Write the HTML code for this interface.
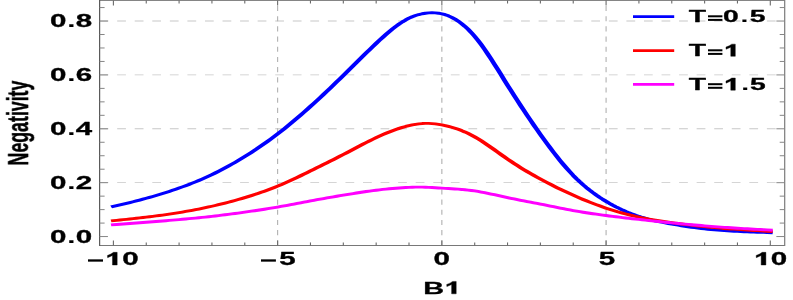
<!DOCTYPE html>
<html><head><meta charset="utf-8"><style>
html,body{margin:0;padding:0;background:#fff;}
svg{display:block;}
</style></head><body>
<svg width="793" height="300" viewBox="0 0 793 300">
<rect width="793" height="300" fill="#fff"/>
<g transform="scale(1.66667,1)">
<g stroke="#c8c8c8" stroke-width="0.9" fill="none">
<line x1="59.76" x2="470.82" y1="182.67" y2="182.67" stroke-dasharray="5.268 5.268"/>
<line x1="59.76" x2="470.82" y1="128.79" y2="128.79" stroke-dasharray="5.268 5.268"/>
<line x1="59.76" x2="470.82" y1="74.91" y2="74.91" stroke-dasharray="5.268 5.268"/>
<line x1="59.76" x2="470.82" y1="21.03" y2="21.03" stroke-dasharray="5.268 5.268"/>
<line x1="166.57" x2="166.57" y1="245.4" y2="0.5" stroke-dasharray="5.094 5.094" stroke-width="0.66" stroke="#b0b0b0"/>
<line x1="265.11" x2="265.11" y1="245.4" y2="0.5" stroke-dasharray="5.094 5.094" stroke-width="0.66" stroke="#b0b0b0"/>
<line x1="363.65" x2="363.65" y1="245.4" y2="0.5" stroke-dasharray="5.094 5.094" stroke-width="0.66" stroke="#b0b0b0"/>
</g>
<path d="M68.04 206.38 L70.01 205.64 L71.98 204.89 L73.95 204.13 L75.92 203.35 L77.89 202.55 L79.86 201.74 L81.83 200.91 L83.81 200.06 L85.78 199.19 L87.75 198.30 L89.72 197.38 L91.69 196.45 L93.66 195.49 L95.63 194.51 L97.60 193.50 L99.57 192.47 L101.54 191.41 L103.51 190.32 L105.48 189.20 L107.45 188.06 L109.42 186.88 L111.40 185.67 L113.37 184.43 L115.34 183.15 L117.31 181.83 L119.28 180.47 L121.25 179.07 L123.22 177.62 L125.19 176.13 L127.16 174.59 L129.13 173.00 L131.10 171.36 L133.07 169.67 L135.04 167.93 L137.01 166.15 L138.99 164.31 L140.96 162.44 L142.93 160.51 L144.90 158.55 L146.87 156.54 L148.84 154.49 L150.81 152.39 L152.78 150.25 L154.75 148.06 L156.72 145.82 L158.69 143.54 L160.66 141.21 L162.63 138.83 L164.60 136.39 L166.57 133.91 L168.55 131.37 L170.52 128.78 L172.49 126.14 L174.46 123.45 L176.43 120.72 L178.40 117.94 L180.37 115.12 L182.34 112.26 L184.31 109.36 L186.28 106.43 L188.25 103.46 L190.22 100.46 L192.19 97.43 L194.16 94.36 L196.14 91.27 L198.11 88.15 L200.08 85.01 L202.05 81.84 L204.02 78.66 L205.99 75.45 L207.96 72.22 L209.93 68.99 L211.90 65.74 L213.87 62.50 L215.84 59.26 L217.81 56.04 L219.78 52.83 L221.75 49.65 L223.73 46.50 L225.70 43.39 L227.67 40.33 L229.64 37.33 L231.61 34.41 L233.58 31.61 L235.55 28.93 L237.52 26.40 L239.49 24.04 L241.46 21.87 L243.43 19.92 L245.40 18.20 L247.37 16.73 L249.34 15.51 L251.32 14.53 L253.29 13.77 L255.26 13.24 L257.23 12.92 L259.20 12.81 L261.17 12.91 L263.14 13.23 L265.11 13.81 L267.08 14.68 L269.05 15.85 L271.02 17.32 L272.99 19.09 L274.96 21.18 L276.93 23.58 L278.90 26.29 L280.88 29.33 L282.85 32.69 L284.82 36.39 L286.79 40.41 L288.76 44.72 L290.73 49.29 L292.70 54.08 L294.67 59.05 L296.64 64.15 L298.61 69.35 L300.58 74.61 L302.55 79.89 L304.52 85.15 L306.49 90.35 L308.47 95.50 L310.44 100.58 L312.41 105.61 L314.38 110.57 L316.35 115.47 L318.32 120.31 L320.29 125.09 L322.26 129.80 L324.23 134.45 L326.20 139.03 L328.17 143.53 L330.14 147.95 L332.11 152.27 L334.08 156.47 L336.06 160.55 L338.03 164.50 L340.00 168.29 L341.97 171.93 L343.94 175.40 L345.91 178.68 L347.88 181.79 L349.85 184.74 L351.82 187.52 L353.79 190.16 L355.76 192.65 L357.73 195.02 L359.70 197.25 L361.67 199.38 L363.65 201.39 L365.62 203.31 L367.59 205.13 L369.56 206.85 L371.53 208.48 L373.50 210.02 L375.47 211.47 L377.44 212.83 L379.41 214.10 L381.38 215.29 L383.35 216.40 L385.32 217.42 L387.29 218.37 L389.26 219.26 L391.23 220.08 L393.21 220.84 L395.18 221.56 L397.15 222.24 L399.12 222.88 L401.09 223.49 L403.06 224.08 L405.03 224.65 L407.00 225.20 L408.97 225.74 L410.94 226.26 L412.91 226.76 L414.88 227.23 L416.85 227.69 L418.82 228.12 L420.80 228.52 L422.77 228.90 L424.74 229.25 L426.71 229.57 L428.68 229.87 L430.65 230.15 L432.62 230.40 L434.59 230.64 L436.56 230.85 L438.53 231.05 L440.50 231.24 L442.47 231.40 L444.44 231.56 L446.41 231.71 L448.39 231.84 L450.36 231.97 L452.33 232.09 L454.30 232.20 L456.27 232.32 L458.24 232.42 L460.21 232.53 L462.18 232.64" fill="none" stroke="#0000ff" stroke-width="2.9" stroke-linecap="square" stroke-linejoin="round"/>
<path d="M68.04 220.66 L70.01 220.33 L71.98 220.01 L73.95 219.68 L75.92 219.34 L77.89 219.00 L79.86 218.65 L81.83 218.29 L83.81 217.92 L85.78 217.54 L87.75 217.15 L89.72 216.75 L91.69 216.35 L93.66 215.92 L95.63 215.49 L97.60 215.04 L99.57 214.58 L101.54 214.10 L103.51 213.61 L105.48 213.10 L107.45 212.57 L109.42 212.03 L111.40 211.47 L113.37 210.89 L115.34 210.29 L117.31 209.67 L119.28 209.03 L121.25 208.36 L123.22 207.68 L125.19 206.97 L127.16 206.24 L129.13 205.49 L131.10 204.71 L133.07 203.91 L135.04 203.08 L137.01 202.23 L138.99 201.36 L140.96 200.46 L142.93 199.54 L144.90 198.59 L146.87 197.62 L148.84 196.63 L150.81 195.61 L152.78 194.56 L154.75 193.48 L156.72 192.36 L158.69 191.21 L160.66 190.02 L162.63 188.78 L164.60 187.50 L166.57 186.17 L168.55 184.80 L170.52 183.37 L172.49 181.91 L174.46 180.41 L176.43 178.88 L178.40 177.33 L180.37 175.75 L182.34 174.16 L184.31 172.56 L186.28 170.95 L188.25 169.34 L190.22 167.73 L192.19 166.11 L194.16 164.49 L196.14 162.85 L198.11 161.21 L200.08 159.56 L202.05 157.90 L204.02 156.21 L205.99 154.52 L207.96 152.80 L209.93 151.08 L211.90 149.35 L213.87 147.62 L215.84 145.90 L217.81 144.20 L219.78 142.52 L221.75 140.87 L223.73 139.25 L225.70 137.68 L227.67 136.16 L229.64 134.69 L231.61 133.28 L233.58 131.94 L235.55 130.68 L237.52 129.49 L239.49 128.39 L241.46 127.37 L243.43 126.45 L245.40 125.64 L247.37 124.93 L249.34 124.34 L251.32 123.89 L253.29 123.57 L255.26 123.42 L257.23 123.42 L259.20 123.59 L261.17 123.90 L263.14 124.35 L265.11 124.91 L267.08 125.58 L269.05 126.35 L271.02 127.23 L272.99 128.23 L274.96 129.35 L276.93 130.59 L278.90 131.96 L280.88 133.46 L282.85 135.10 L284.82 136.87 L286.79 138.79 L288.76 140.82 L290.73 142.97 L292.70 145.19 L294.67 147.47 L296.64 149.80 L298.61 152.14 L300.58 154.49 L302.55 156.81 L304.52 159.10 L306.49 161.32 L308.47 163.49 L310.44 165.60 L312.41 167.66 L314.38 169.66 L316.35 171.62 L318.32 173.54 L320.29 175.41 L322.26 177.24 L324.23 179.03 L326.20 180.79 L328.17 182.52 L330.14 184.22 L332.11 185.88 L334.08 187.51 L336.06 189.11 L338.03 190.67 L340.00 192.21 L341.97 193.72 L343.94 195.20 L345.91 196.65 L347.88 198.06 L349.85 199.45 L351.82 200.80 L353.79 202.12 L355.76 203.40 L357.73 204.65 L359.70 205.86 L361.67 207.03 L363.65 208.16 L365.62 209.24 L367.59 210.28 L369.56 211.29 L371.53 212.25 L373.50 213.17 L375.47 214.05 L377.44 214.88 L379.41 215.68 L381.38 216.44 L383.35 217.15 L385.32 217.83 L387.29 218.47 L389.26 219.08 L391.23 219.65 L393.21 220.20 L395.18 220.73 L397.15 221.23 L399.12 221.72 L401.09 222.19 L403.06 222.65 L405.03 223.10 L407.00 223.54 L408.97 223.97 L410.94 224.39 L412.91 224.80 L414.88 225.20 L416.85 225.59 L418.82 225.96 L420.80 226.32 L422.77 226.66 L424.74 226.99 L426.71 227.31 L428.68 227.61 L430.65 227.90 L432.62 228.18 L434.59 228.44 L436.56 228.70 L438.53 228.94 L440.50 229.18 L442.47 229.41 L444.44 229.63 L446.41 229.85 L448.39 230.06 L450.36 230.26 L452.33 230.46 L454.30 230.66 L456.27 230.86 L458.24 231.05 L460.21 231.24 L462.18 231.43" fill="none" stroke="#ff0000" stroke-width="2.9" stroke-linecap="square" stroke-linejoin="round"/>
<path d="M68.04 224.70 L70.01 224.46 L71.98 224.22 L73.95 223.99 L75.92 223.75 L77.89 223.51 L79.86 223.26 L81.83 223.02 L83.81 222.77 L85.78 222.52 L87.75 222.27 L89.72 222.02 L91.69 221.76 L93.66 221.50 L95.63 221.24 L97.60 220.97 L99.57 220.70 L101.54 220.42 L103.51 220.15 L105.48 219.86 L107.45 219.58 L109.42 219.29 L111.40 218.99 L113.37 218.69 L115.34 218.38 L117.31 218.06 L119.28 217.74 L121.25 217.41 L123.22 217.06 L125.19 216.71 L127.16 216.35 L129.13 215.97 L131.10 215.58 L133.07 215.18 L135.04 214.78 L137.01 214.36 L138.99 213.93 L140.96 213.49 L142.93 213.05 L144.90 212.60 L146.87 212.14 L148.84 211.68 L150.81 211.21 L152.78 210.73 L154.75 210.24 L156.72 209.74 L158.69 209.23 L160.66 208.70 L162.63 208.17 L164.60 207.62 L166.57 207.05 L168.55 206.47 L170.52 205.87 L172.49 205.27 L174.46 204.65 L176.43 204.03 L178.40 203.40 L180.37 202.77 L182.34 202.15 L184.31 201.53 L186.28 200.91 L188.25 200.30 L190.22 199.70 L192.19 199.11 L194.16 198.52 L196.14 197.94 L198.11 197.37 L200.08 196.81 L202.05 196.25 L204.02 195.69 L205.99 195.14 L207.96 194.60 L209.93 194.06 L211.90 193.53 L213.87 193.01 L215.84 192.50 L217.81 192.01 L219.78 191.53 L221.75 191.07 L223.73 190.63 L225.70 190.21 L227.67 189.82 L229.64 189.44 L231.61 189.10 L233.58 188.77 L235.55 188.47 L237.52 188.20 L239.49 187.96 L241.46 187.74 L243.43 187.55 L245.40 187.38 L247.37 187.25 L249.34 187.17 L251.32 187.14 L253.29 187.17 L255.26 187.26 L257.23 187.39 L259.20 187.55 L261.17 187.74 L263.14 187.94 L265.11 188.14 L267.08 188.33 L269.05 188.53 L271.02 188.73 L272.99 188.94 L274.96 189.18 L276.93 189.44 L278.90 189.75 L280.88 190.09 L282.85 190.49 L284.82 190.94 L286.79 191.46 L288.76 192.03 L290.73 192.66 L292.70 193.32 L294.67 194.01 L296.64 194.72 L298.61 195.45 L300.58 196.18 L302.55 196.91 L304.52 197.62 L306.49 198.31 L308.47 198.99 L310.44 199.64 L312.41 200.29 L314.38 200.92 L316.35 201.55 L318.32 202.18 L320.29 202.81 L322.26 203.45 L324.23 204.09 L326.20 204.74 L328.17 205.40 L330.14 206.06 L332.11 206.73 L334.08 207.39 L336.06 208.05 L338.03 208.70 L340.00 209.33 L341.97 209.95 L343.94 210.55 L345.91 211.13 L347.88 211.69 L349.85 212.23 L351.82 212.74 L353.79 213.25 L355.76 213.73 L357.73 214.20 L359.70 214.66 L361.67 215.10 L363.65 215.54 L365.62 215.96 L367.59 216.38 L369.56 216.78 L371.53 217.18 L373.50 217.57 L375.47 217.96 L377.44 218.34 L379.41 218.71 L381.38 219.08 L383.35 219.44 L385.32 219.80 L387.29 220.16 L389.26 220.51 L391.23 220.86 L393.21 221.20 L395.18 221.54 L397.15 221.88 L399.12 222.21 L401.09 222.54 L403.06 222.86 L405.03 223.18 L407.00 223.50 L408.97 223.81 L410.94 224.11 L412.91 224.41 L414.88 224.71 L416.85 225.00 L418.82 225.28 L420.80 225.56 L422.77 225.83 L424.74 226.09 L426.71 226.35 L428.68 226.60 L430.65 226.85 L432.62 227.08 L434.59 227.32 L436.56 227.55 L438.53 227.77 L440.50 227.99 L442.47 228.20 L444.44 228.41 L446.41 228.61 L448.39 228.81 L450.36 229.00 L452.33 229.19 L454.30 229.38 L456.27 229.56 L458.24 229.74 L460.21 229.91 L462.18 230.08" fill="none" stroke="#ff00ff" stroke-width="2.9" stroke-linecap="square" stroke-linejoin="round"/>
<g stroke="#5a5a5a" fill="none">
<line x1="59.76" x2="470.82" y1="0.5" y2="0.5" stroke-width="1" stroke="#858585"/>
<line x1="59.76" x2="470.82" y1="245.45" y2="245.45" stroke-width="1" stroke="#787878"/>
<line x1="59.76" x2="59.76" y1="0.0" y2="245.95" stroke-width="0.74"/>
<line x1="470.82" x2="470.82" y1="0.0" y2="245.95" stroke-width="0.72" stroke="#7a7a7a"/>
</g>
<g stroke="#7a7a7a" fill="none">
<line x1="68.04" x2="68.04" y1="245.45" y2="240.45" stroke-width="0.66" stroke="#6a6a6a"/>
<line x1="68.04" x2="68.04" y1="0.5" y2="5.5" stroke-width="0.66" stroke="#6a6a6a"/>
<line x1="87.75" x2="87.75" y1="245.45" y2="242.45" stroke-width="0.66" stroke="#6a6a6a"/>
<line x1="87.75" x2="87.75" y1="0.5" y2="3.5" stroke-width="0.66" stroke="#6a6a6a"/>
<line x1="107.45" x2="107.45" y1="245.45" y2="242.45" stroke-width="0.66" stroke="#6a6a6a"/>
<line x1="107.45" x2="107.45" y1="0.5" y2="3.5" stroke-width="0.66" stroke="#6a6a6a"/>
<line x1="127.16" x2="127.16" y1="245.45" y2="242.45" stroke-width="0.66" stroke="#6a6a6a"/>
<line x1="127.16" x2="127.16" y1="0.5" y2="3.5" stroke-width="0.66" stroke="#6a6a6a"/>
<line x1="146.87" x2="146.87" y1="245.45" y2="242.45" stroke-width="0.66" stroke="#6a6a6a"/>
<line x1="146.87" x2="146.87" y1="0.5" y2="3.5" stroke-width="0.66" stroke="#6a6a6a"/>
<line x1="166.57" x2="166.57" y1="245.45" y2="240.45" stroke-width="0.66" stroke="#6a6a6a"/>
<line x1="166.57" x2="166.57" y1="0.5" y2="5.5" stroke-width="0.66" stroke="#6a6a6a"/>
<line x1="186.28" x2="186.28" y1="245.45" y2="242.45" stroke-width="0.66" stroke="#6a6a6a"/>
<line x1="186.28" x2="186.28" y1="0.5" y2="3.5" stroke-width="0.66" stroke="#6a6a6a"/>
<line x1="205.99" x2="205.99" y1="245.45" y2="242.45" stroke-width="0.66" stroke="#6a6a6a"/>
<line x1="205.99" x2="205.99" y1="0.5" y2="3.5" stroke-width="0.66" stroke="#6a6a6a"/>
<line x1="225.70" x2="225.70" y1="245.45" y2="242.45" stroke-width="0.66" stroke="#6a6a6a"/>
<line x1="225.70" x2="225.70" y1="0.5" y2="3.5" stroke-width="0.66" stroke="#6a6a6a"/>
<line x1="245.40" x2="245.40" y1="245.45" y2="242.45" stroke-width="0.66" stroke="#6a6a6a"/>
<line x1="245.40" x2="245.40" y1="0.5" y2="3.5" stroke-width="0.66" stroke="#6a6a6a"/>
<line x1="265.11" x2="265.11" y1="245.45" y2="240.45" stroke-width="0.66" stroke="#6a6a6a"/>
<line x1="265.11" x2="265.11" y1="0.5" y2="5.5" stroke-width="0.66" stroke="#6a6a6a"/>
<line x1="284.82" x2="284.82" y1="245.45" y2="242.45" stroke-width="0.66" stroke="#6a6a6a"/>
<line x1="284.82" x2="284.82" y1="0.5" y2="3.5" stroke-width="0.66" stroke="#6a6a6a"/>
<line x1="304.52" x2="304.52" y1="245.45" y2="242.45" stroke-width="0.66" stroke="#6a6a6a"/>
<line x1="304.52" x2="304.52" y1="0.5" y2="3.5" stroke-width="0.66" stroke="#6a6a6a"/>
<line x1="324.23" x2="324.23" y1="245.45" y2="242.45" stroke-width="0.66" stroke="#6a6a6a"/>
<line x1="324.23" x2="324.23" y1="0.5" y2="3.5" stroke-width="0.66" stroke="#6a6a6a"/>
<line x1="343.94" x2="343.94" y1="245.45" y2="242.45" stroke-width="0.66" stroke="#6a6a6a"/>
<line x1="343.94" x2="343.94" y1="0.5" y2="3.5" stroke-width="0.66" stroke="#6a6a6a"/>
<line x1="363.65" x2="363.65" y1="245.45" y2="240.45" stroke-width="0.66" stroke="#6a6a6a"/>
<line x1="363.65" x2="363.65" y1="0.5" y2="5.5" stroke-width="0.66" stroke="#6a6a6a"/>
<line x1="383.35" x2="383.35" y1="245.45" y2="242.45" stroke-width="0.66" stroke="#6a6a6a"/>
<line x1="383.35" x2="383.35" y1="0.5" y2="3.5" stroke-width="0.66" stroke="#6a6a6a"/>
<line x1="403.06" x2="403.06" y1="245.45" y2="242.45" stroke-width="0.66" stroke="#6a6a6a"/>
<line x1="403.06" x2="403.06" y1="0.5" y2="3.5" stroke-width="0.66" stroke="#6a6a6a"/>
<line x1="422.77" x2="422.77" y1="245.45" y2="242.45" stroke-width="0.66" stroke="#6a6a6a"/>
<line x1="422.77" x2="422.77" y1="0.5" y2="3.5" stroke-width="0.66" stroke="#6a6a6a"/>
<line x1="442.47" x2="442.47" y1="245.45" y2="242.45" stroke-width="0.66" stroke="#6a6a6a"/>
<line x1="442.47" x2="442.47" y1="0.5" y2="3.5" stroke-width="0.66" stroke="#6a6a6a"/>
<line x1="462.18" x2="462.18" y1="245.45" y2="240.45" stroke-width="0.66" stroke="#6a6a6a"/>
<line x1="462.18" x2="462.18" y1="0.5" y2="5.5" stroke-width="0.66" stroke="#6a6a6a"/>
<line x1="59.76" x2="64.76" y1="236.55" y2="236.55" stroke-width="1" stroke="#858585"/>
<line x1="470.82" x2="465.82" y1="236.55" y2="236.55" stroke-width="1" stroke="#858585"/>
<line x1="59.76" x2="62.76" y1="223.08" y2="223.08" stroke-width="1" stroke="#858585"/>
<line x1="470.82" x2="467.82" y1="223.08" y2="223.08" stroke-width="1" stroke="#858585"/>
<line x1="59.76" x2="62.76" y1="209.61" y2="209.61" stroke-width="1" stroke="#858585"/>
<line x1="470.82" x2="467.82" y1="209.61" y2="209.61" stroke-width="1" stroke="#858585"/>
<line x1="59.76" x2="62.76" y1="196.14" y2="196.14" stroke-width="1" stroke="#858585"/>
<line x1="470.82" x2="467.82" y1="196.14" y2="196.14" stroke-width="1" stroke="#858585"/>
<line x1="59.76" x2="64.76" y1="182.67" y2="182.67" stroke-width="1" stroke="#858585"/>
<line x1="470.82" x2="465.82" y1="182.67" y2="182.67" stroke-width="1" stroke="#858585"/>
<line x1="59.76" x2="62.76" y1="169.20" y2="169.20" stroke-width="1" stroke="#858585"/>
<line x1="470.82" x2="467.82" y1="169.20" y2="169.20" stroke-width="1" stroke="#858585"/>
<line x1="59.76" x2="62.76" y1="155.73" y2="155.73" stroke-width="1" stroke="#858585"/>
<line x1="470.82" x2="467.82" y1="155.73" y2="155.73" stroke-width="1" stroke="#858585"/>
<line x1="59.76" x2="62.76" y1="142.26" y2="142.26" stroke-width="1" stroke="#858585"/>
<line x1="470.82" x2="467.82" y1="142.26" y2="142.26" stroke-width="1" stroke="#858585"/>
<line x1="59.76" x2="64.76" y1="128.79" y2="128.79" stroke-width="1" stroke="#858585"/>
<line x1="470.82" x2="465.82" y1="128.79" y2="128.79" stroke-width="1" stroke="#858585"/>
<line x1="59.76" x2="62.76" y1="115.32" y2="115.32" stroke-width="1" stroke="#858585"/>
<line x1="470.82" x2="467.82" y1="115.32" y2="115.32" stroke-width="1" stroke="#858585"/>
<line x1="59.76" x2="62.76" y1="101.85" y2="101.85" stroke-width="1" stroke="#858585"/>
<line x1="470.82" x2="467.82" y1="101.85" y2="101.85" stroke-width="1" stroke="#858585"/>
<line x1="59.76" x2="62.76" y1="88.38" y2="88.38" stroke-width="1" stroke="#858585"/>
<line x1="470.82" x2="467.82" y1="88.38" y2="88.38" stroke-width="1" stroke="#858585"/>
<line x1="59.76" x2="64.76" y1="74.91" y2="74.91" stroke-width="1" stroke="#858585"/>
<line x1="470.82" x2="465.82" y1="74.91" y2="74.91" stroke-width="1" stroke="#858585"/>
<line x1="59.76" x2="62.76" y1="61.44" y2="61.44" stroke-width="1" stroke="#858585"/>
<line x1="470.82" x2="467.82" y1="61.44" y2="61.44" stroke-width="1" stroke="#858585"/>
<line x1="59.76" x2="62.76" y1="47.97" y2="47.97" stroke-width="1" stroke="#858585"/>
<line x1="470.82" x2="467.82" y1="47.97" y2="47.97" stroke-width="1" stroke="#858585"/>
<line x1="59.76" x2="62.76" y1="34.50" y2="34.50" stroke-width="1" stroke="#858585"/>
<line x1="470.82" x2="467.82" y1="34.50" y2="34.50" stroke-width="1" stroke="#858585"/>
<line x1="59.76" x2="64.76" y1="21.03" y2="21.03" stroke-width="1" stroke="#858585"/>
<line x1="470.82" x2="465.82" y1="21.03" y2="21.03" stroke-width="1" stroke="#858585"/>
<line x1="59.76" x2="62.76" y1="7.56" y2="7.56" stroke-width="1" stroke="#858585"/>
<line x1="470.82" x2="467.82" y1="7.56" y2="7.56" stroke-width="1" stroke="#858585"/>
</g>
<g font-family="Liberation Sans, sans-serif" font-weight="bold" fill="#000" stroke="#000" stroke-linejoin="round" style="filter:grayscale(1)">
<text x="30.05" y="242.85" font-size="17.7" stroke-width="0.3">0</text>
<text x="40.34" y="242.75" font-size="17.7" stroke-width="0.05">.</text>
<text x="45.41" y="242.85" font-size="17.7" stroke-width="0.3">0</text>
<text x="30.05" y="188.97" font-size="17.7" stroke-width="0.3">0</text>
<text x="40.34" y="188.87" font-size="17.7" stroke-width="0.05">.</text>
<text x="45.41" y="188.97" font-size="17.7" stroke-width="0.3">2</text>
<text x="30.05" y="135.09" font-size="17.7" stroke-width="0.3">0</text>
<text x="40.34" y="134.99" font-size="17.7" stroke-width="0.05">.</text>
<text x="45.41" y="135.09" font-size="17.7" stroke-width="0.3">4</text>
<text x="30.05" y="81.21" font-size="17.7" stroke-width="0.3">0</text>
<text x="40.34" y="81.11" font-size="17.7" stroke-width="0.05">.</text>
<text x="45.41" y="81.21" font-size="17.7" stroke-width="0.3">6</text>
<text x="30.05" y="27.33" font-size="17.7" stroke-width="0.3">0</text>
<text x="40.34" y="27.23" font-size="17.7" stroke-width="0.05">.</text>
<text x="45.41" y="27.33" font-size="17.7" stroke-width="0.3">8</text>
<rect x="52.80" y="259.35" width="9.00" height="2.30" stroke="none"/>
<path d="M70.31 265.00 L67.48 265.00 L67.48 255.53 L64.56 257.65 L64.47 255.44 Q66.77 254.11 68.10 252.33 L70.31 252.33Z" stroke-width="0.3"/>
<text x="73.29" y="265.00" font-size="17.7" stroke-width="0.3">0</text>
<rect x="156.60" y="259.35" width="8.94" height="2.30" stroke="none"/>
<text x="167.54" y="265.00" font-size="17.7" stroke-width="0.3">5</text>
<text x="260.09" y="265.00" font-size="17.7" stroke-width="0.3">0</text>
<text x="359.24" y="265.00" font-size="17.7" stroke-width="0.3">5</text>
<path d="M459.53 265.00 L456.70 265.00 L456.70 255.53 L453.78 257.65 L453.69 255.44 Q455.99 254.11 457.32 252.33 L459.53 252.33Z" stroke-width="0.3"/>
<text x="462.51" y="265.00" font-size="17.7" stroke-width="0.3">0</text>
<text x="253.93" y="293.80" font-size="17.3" stroke-width="0.3">B</text>
<path d="M273.73 293.80 L270.97 293.80 L270.97 284.54 L268.11 286.62 L268.02 284.46 Q270.27 283.16 271.57 281.41 L273.73 281.41Z" stroke-width="0.3"/>
<text transform="translate(16.68,123.0) rotate(-90)" text-anchor="middle" font-size="17.75" stroke-width="0.3">Negativity</text>
<text x="413.30" y="22.30" font-size="17.0" stroke-width="0.3">T</text>
<rect x="424.80" y="15.30" width="8.64" height="2.00" stroke="none"/>
<rect x="424.80" y="18.90" width="8.64" height="2.00" stroke="none"/>
<text x="433.82" y="22.30" font-size="17.0" stroke-width="0.3">0</text>
<text x="444.37" y="22.20" font-size="17.0" stroke-width="0.05">.</text>
<text x="449.89" y="22.30" font-size="17.0" stroke-width="0.3">5</text>
<text x="413.30" y="56.30" font-size="17.0" stroke-width="0.3">T</text>
<rect x="424.80" y="49.30" width="8.64" height="2.00" stroke="none"/>
<rect x="424.80" y="52.90" width="8.64" height="2.00" stroke="none"/>
<path d="M441.18 56.30 L438.46 56.30 L438.46 47.20 L435.66 49.24 L435.57 47.12 Q437.78 45.84 439.06 44.13 L441.18 44.13Z" stroke-width="0.3"/>
<text x="413.30" y="90.20" font-size="17.0" stroke-width="0.3">T</text>
<rect x="424.80" y="83.20" width="8.64" height="2.00" stroke="none"/>
<rect x="424.80" y="86.80" width="8.64" height="2.00" stroke="none"/>
<path d="M441.18 90.20 L438.46 90.20 L438.46 81.11 L435.66 83.15 L435.57 81.02 Q437.78 79.75 439.06 78.03 L441.18 78.03Z" stroke-width="0.3"/>
<text x="444.70" y="90.10" font-size="17.0" stroke-width="0.05">.</text>
<text x="450.07" y="90.20" font-size="17.0" stroke-width="0.3">5</text>
</g>
<line x1="379.80" x2="404.52" y1="16.5" y2="16.5" stroke="#0000ff" stroke-width="2.75"/>
<line x1="379.80" x2="404.52" y1="50.5" y2="50.5" stroke="#ff0000" stroke-width="2.75"/>
<line x1="379.80" x2="404.52" y1="84.4" y2="84.4" stroke="#ff00ff" stroke-width="2.75"/>
</g>
</svg>
</body></html>
